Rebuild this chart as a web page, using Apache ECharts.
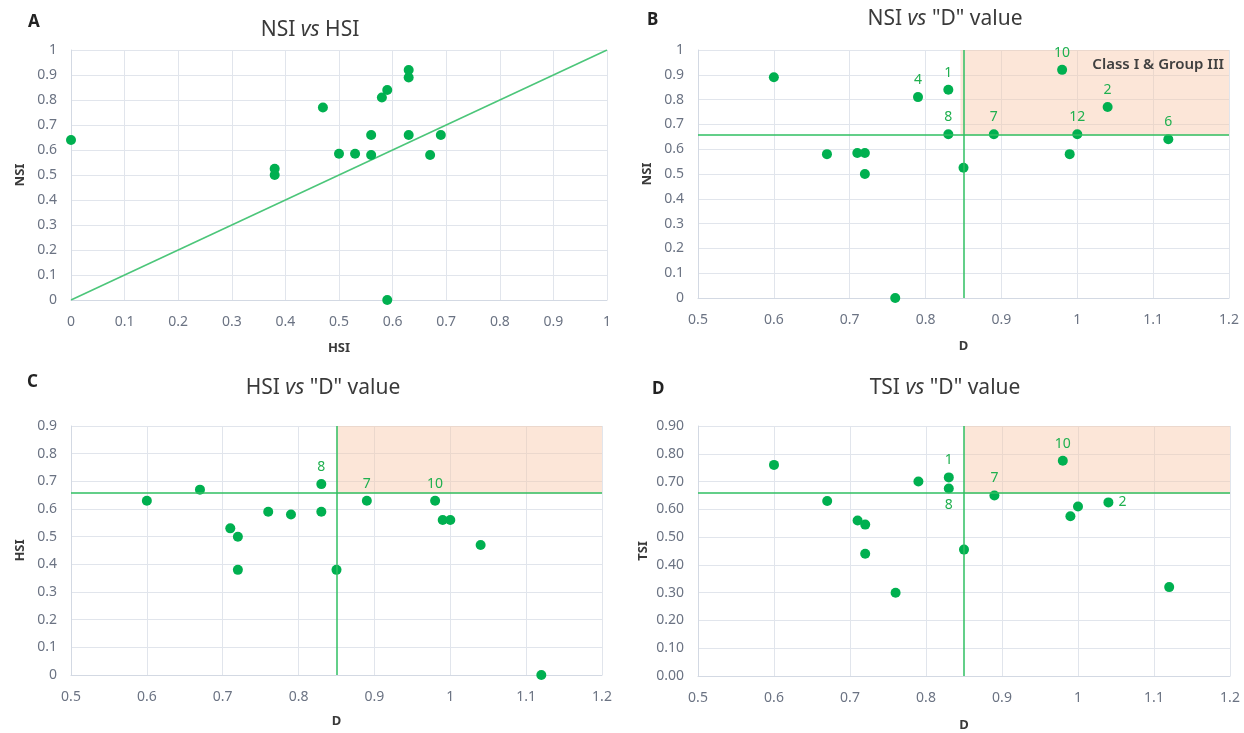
<!DOCTYPE html>
<html><head><meta charset="utf-8">
<script src="https://cdn.jsdelivr.net/npm/echarts@6/dist/echarts.min.js"></script>
<style>html,body{margin:0;padding:0;background:#fff}#c{width:1244px;height:733px}</style>
</head><body><div id="c"></div>
<script>
// ---- data ----
const dValues   = [0.60, 0.67, 0.71, 0.72, 0.72, 0.76, 0.79, 0.83, 0.83, 0.85, 0.89, 0.98, 0.99, 1.00, 1.04, 1.12];
const nsiValues = [0.89, 0.58, 0.585, 0.585, 0.50, 0.00, 0.81, 0.84, 0.66, 0.525, 0.66, 0.92, 0.58, 0.66, 0.77, 0.64];
const hsiValues = [0.63, 0.67, 0.53, 0.50, 0.38, 0.59, 0.58, 0.59, 0.69, 0.38, 0.63, 0.63, 0.56, 0.56, 0.47, 0.00];
const tsiValues = [0.76, 0.63, 0.56, 0.545, 0.44, 0.30, 0.70, 0.715, 0.675, 0.455, 0.65, 0.775, 0.575, 0.61, 0.625, 0.32];
const sampleIds = ['', '', '', '', '', '', '4', '1', '8', '', '7', '10', '', '12', '2', '6'];
const labelsB = ['4', '1', '8', '7', '10', '12', '2', '6'];
const labelsC = ['8', '7', '10'];
const labelsD = ['1', '8', '7', '10', '2'];
const diagonalLine = [[0, 0], [1, 1]];
const thresholdDB = 0.846, thresholdD = 0.85, thresholdIndex = 0.655;
const panelLetters = ['A', 'B', 'C', 'D'];
const areaLabel = 'Class I & Group III';

// ---- styles ----
const GREEN = '#00b050';
const LINE_GREEN = '#2fbf62';
const FONT = 'Noto Sans';
const gridColor = '#e1e5ec';
const axisColor = '#d3d9e3';
const tickColor = '#6b7383';

const chart = echarts.init(document.getElementById('c'), null, {renderer: 'canvas'});

function xAxisCfg(grid, min, max, name, gap, dec) {
  return {
    gridIndex: grid, type: 'value', min: min, max: max, interval: 0.1,
    name: name, nameLocation: 'middle', nameGap: gap,
    nameTextStyle: {fontFamily: FONT, fontSize: 13, fontWeight: 'bold', color: '#3a3a3a'},
    axisLine: {show: true, lineStyle: {color: axisColor}},
    axisTick: {show: false},
    axisLabel: {margin: 15, fontFamily: FONT, fontSize: 14, color: tickColor,
      formatter: v => String(+v.toFixed(dec))},
    splitLine: {show: true, lineStyle: {color: gridColor}}
  };
}
function yAxisCfg(grid, min, max, name, gap, fmt) {
  return {
    gridIndex: grid, type: 'value', min: min, max: max, interval: 0.1,
    name: name, nameLocation: 'middle', nameGap: gap,
    nameTextStyle: {fontFamily: FONT, fontSize: 13, fontWeight: 'bold', color: '#3a3a3a'},
    axisLine: {show: true, lineStyle: {color: axisColor}},
    axisTick: {show: false},
    axisLabel: {margin: 14, fontFamily: FONT, fontSize: 14, color: tickColor, formatter: fmt},
    splitLine: {show: true, lineStyle: {color: gridColor}}
  };
}
const fmt1 = v => String(+v.toFixed(1));
const fmt2 = v => v.toFixed(2);

function points(xs, ys, shown, posMap) {
  return xs.map((x, i) => {
    const id = sampleIds[i];
    const show = shown.indexOf(id) >= 0;
    return {
      value: [x, ys[i]],
      label: {show: show, formatter: id, position: (posMap && posMap[id]) || 'top'}
    };
  });
}
const labelStyle = {fontFamily: FONT, fontSize: 14, color: '#1fb04f', distance: 5};

function thresholdMarks(xt, yt, xMax, yMax) {
  return {
    markLine: {
      silent: true, symbol: 'none', animation: false,
      lineStyle: {color: LINE_GREEN, width: 1.5, type: 'solid'},
      label: {show: false},
      data: [{xAxis: xt}, {yAxis: yt}]
    },
    markArea: {
      silent: true, animation: false,
      itemStyle: {color: 'rgba(248,200,168,0.45)'},
      label: {show: false},
      data: [[{xAxis: xt, yAxis: yt}, {xAxis: xMax, yAxis: yMax}]]
    }
  };
}

const titleStyle = {
  fontFamily: FONT, fontSize: 21, color: '#3a3a3a', fontWeight: 'normal',
  rich: {
    n: {fontFamily: FONT, fontSize: 21, color: '#3a3a3a'},
    i: {fontFamily: FONT, fontSize: 21, color: '#3a3a3a', fontStyle: 'italic'}
  }
};
const letterStyle = {fontFamily: FONT, fontSize: 17, fontWeight: 'bold', color: '#222'};

const option = {
  animation: false,
  backgroundColor: '#fff',
  title: [
    {text: '{n|NSI }{i|vs}{n| HSI}', left: 305, top: 15, textAlign: 'center', textStyle: titleStyle},
    {text: '{n|NSI }{i|vs}{n| "D" value}', left: 940, top: 4, textAlign: 'center', textStyle: titleStyle},
    {text: '{n|HSI }{i|vs}{n| "D" value}', left: 318, top: 373, textAlign: 'center', textStyle: titleStyle},
    {text: '{n|TSI }{i|vs}{n| "D" value}', left: 940, top: 373, textAlign: 'center', textStyle: titleStyle},
    {text: panelLetters[0], left: 23, top: 9, textStyle: letterStyle},
    {text: panelLetters[1], left: 642, top: 7, textStyle: letterStyle},
    {text: panelLetters[2], left: 22, top: 369, textStyle: letterStyle},
    {text: panelLetters[3], left: 647, top: 376, textStyle: letterStyle},
    {text: areaLabel, right: 20, top: 57, padding: 0,
      textStyle: {fontFamily: FONT, fontSize: 15, fontWeight: 600, color: '#404040'}}
  ],
  grid: [
    {left: 71, top: 50, width: 536, height: 250},
    {left: 698, top: 50, width: 531, height: 248},
    {left: 71, top: 426, width: 531, height: 249},
    {left: 698, top: 426, width: 532, height: 254}
  ],
  xAxis: [
    xAxisCfg(0, 0, 1, 'HSI', 42, 1),
    xAxisCfg(1, 0.5, 1.2, 'D', 42, 1),
    xAxisCfg(2, 0.5, 1.2, 'D', 40, 1),
    xAxisCfg(3, 0.5, 1.2, 'D', 43, 1)
  ],
  yAxis: [
    yAxisCfg(0, 0, 1, 'NSI', 44, fmt1),
    yAxisCfg(1, 0, 1, 'NSI', 44, fmt1),
    yAxisCfg(2, 0, 0.9, 'HSI', 44, fmt1),
    yAxisCfg(3, 0, 0.9, 'TSI', 48, fmt2)
  ],
  series: [
    {
      type: 'line', xAxisIndex: 0, yAxisIndex: 0, data: diagonalLine,
      symbol: 'none', lineStyle: {color: '#4cc67a', width: 1.6}, z: 2, silent: true
    },
    {
      type: 'scatter', xAxisIndex: 0, yAxisIndex: 0, symbolSize: 10,
      itemStyle: {color: GREEN, opacity: 1}, z: 3,
      data: hsiValues.map((h, i) => [h, nsiValues[i]])
    },
    Object.assign({
      type: 'scatter', xAxisIndex: 1, yAxisIndex: 1, symbolSize: 10,
      itemStyle: {color: GREEN, opacity: 1}, z: 3, label: labelStyle,
      data: points(dValues, nsiValues, labelsB)
    }, thresholdMarks(thresholdDB, thresholdIndex, 1.2, 1)),
    Object.assign({
      type: 'scatter', xAxisIndex: 2, yAxisIndex: 2, symbolSize: 10,
      itemStyle: {color: GREEN, opacity: 1}, z: 3, label: labelStyle,
      data: points(dValues, hsiValues, labelsC)
    }, thresholdMarks(thresholdD, thresholdIndex, 1.2, 0.9)),
    Object.assign({
      type: 'scatter', xAxisIndex: 3, yAxisIndex: 3, symbolSize: 10,
      itemStyle: {color: GREEN, opacity: 1}, z: 3, label: labelStyle,
      data: points(dValues, tsiValues, labelsD, {'8': 'bottom', '2': 'right'})
    }, thresholdMarks(thresholdD, thresholdIndex, 1.2, 0.9))
  ]
};
chart.setOption(option);
</script>
</body></html>
